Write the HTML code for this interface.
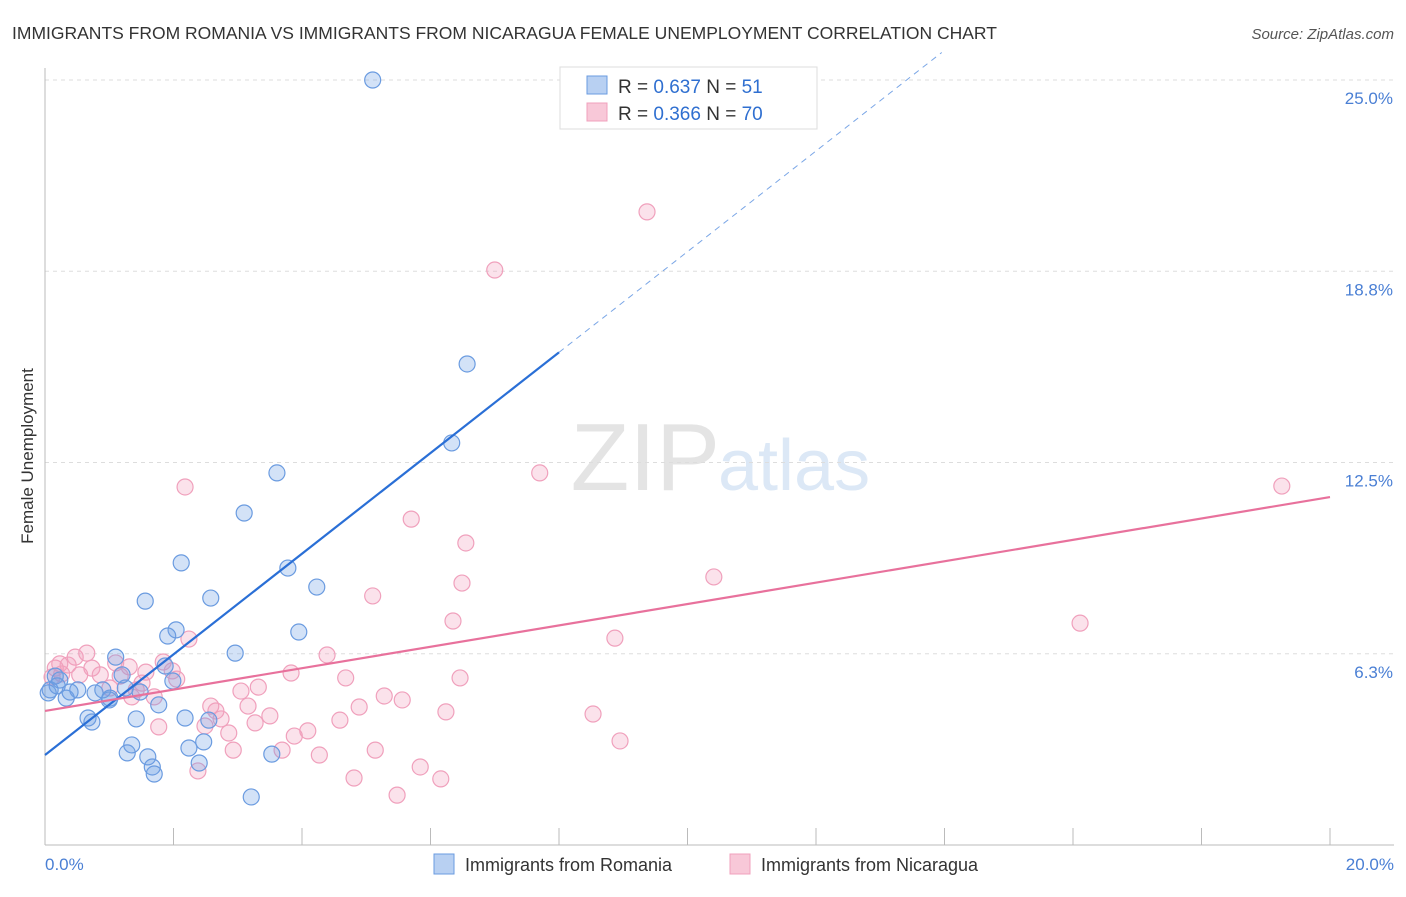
<!DOCTYPE html>
<html><head><meta charset="utf-8"><style>
body{margin:0;background:#fff;font-family:"Liberation Sans",sans-serif;}
svg text{font-family:"Liberation Sans",sans-serif;}
</style></head><body>
<svg id="chart" width="1406" height="892" xmlns="http://www.w3.org/2000/svg">
<text x="12" y="39" font-size="17.5" fill="#333">IMMIGRANTS FROM ROMANIA VS IMMIGRANTS FROM NICARAGUA FEMALE UNEMPLOYMENT CORRELATION CHART</text>
<text x="1394" y="39" font-size="15" fill="#555" text-anchor="end" font-style="italic">Source: ZipAtlas.com</text>
<text x="720" y="490" font-size="96" fill="#e4e4e4" text-anchor="end" font-family="Liberation Serif">ZIP</text>
<text x="718" y="490" font-size="72" fill="#dce8f6">atlas</text>
<text transform="translate(33,456) rotate(-90)" font-size="17" fill="#333" text-anchor="middle">Female Unemployment</text>
<g id="grid"></g><g id="axes"></g><g id="marks"></g>
<g>
<rect x="560" y="67" width="257" height="62" fill="#fff" stroke="#ddd"/>
<rect x="587" y="76" width="20" height="18" fill="#b8d0f2" stroke="#6a9be0"/>
<text x="618" y="93" font-size="19" fill="#333">R = <tspan fill="#2f6fd0">0.637</tspan>   N =  <tspan fill="#2f6fd0">51</tspan></text>
<rect x="587" y="103" width="20" height="18" fill="#f8c8d8" stroke="#f0a0bc"/>
<text x="618" y="120" font-size="19" fill="#333">R = <tspan fill="#2f6fd0">0.366</tspan>   N = <tspan fill="#2f6fd0">70</tspan></text>
</g>
<g>
<rect x="434" y="854" width="20" height="20" fill="#b8d0f2" stroke="#6a9be0"/>
<text x="465" y="871" font-size="18" fill="#333">Immigrants from Romania</text>
<rect x="730" y="854" width="20" height="20" fill="#f8c8d8" stroke="#f0a0bc"/>
<text x="761" y="871" font-size="18" fill="#333">Immigrants from Nicaragua</text>
</g>
</svg>
<script>
const yTicks=[6.25,12.5,18.75,25];
const yTickLabels=["6.3%","12.5%","18.8%","25.0%"];
const xTicks=[0,2,4,6,8,10,12,14,16,18,20];
const xTickLabels=["0.0%","20.0%"];
const romaniaX=[5.1,6.57,6.33,3.61,3.10,2.12,3.78,4.23,1.56,2.58,2.04,1.91,3.95,2.96,1.10,1.87,1.99,0.16,0.08,0.23,0.33,0.51,0.78,0.90,1.01,1.25,1.48,0.67,0.73,1.42,1.77,2.18,2.55,1.35,1.28,1.60,1.67,1.70,2.24,2.40,2.47,3.53,3.21,1.20,1.0,0.19,0.05,0.39];
const romaniaY=[25.0,15.72,13.14,12.16,10.85,9.22,9.05,8.43,7.97,8.07,7.03,6.83,6.96,6.27,6.14,5.85,5.36,5.52,5.07,5.39,4.80,5.07,4.97,5.07,4.80,5.13,5.0,4.15,4.02,4.12,4.58,4.15,4.08,3.27,3.01,2.88,2.55,2.32,3.17,2.68,3.37,2.97,1.57,5.56,4.74,5.2,4.97,5.0];
const nicaraguaX=[9.37,7.00,7.70,19.25,2.18,5.70,6.55,6.49,10.41,5.10,6.35,16.11,8.87,2.24,4.39,6.46,4.68,3.83,3.32,3.05,5.28,5.56,4.89,4.59,6.24,8.53,8.95,4.09,3.88,3.50,3.27,3.16,2.86,2.74,2.58,2.66,2.49,2.38,2.93,1.77,3.69,4.27,5.14,4.81,5.48,5.84,6.16,0.16,0.23,0.47,0.65,0.36,0.54,0.73,0.86,1.10,1.31,1.01,1.35,1.51,1.57,1.84,1.98,2.05,1.70,0.11,0.26,1.17,1.42];
const nicaraguaY=[20.69,18.79,12.16,11.73,11.70,10.65,9.87,8.56,8.76,8.14,7.32,7.25,6.76,6.73,6.21,5.46,5.46,5.62,5.16,5.03,4.87,4.74,4.51,4.08,4.35,4.28,3.40,3.73,3.56,4.22,3.99,4.54,3.66,4.12,4.54,4.38,3.89,2.42,3.10,3.86,3.10,2.94,3.10,2.19,1.63,2.55,2.16,5.78,5.92,6.14,6.27,5.88,5.56,5.78,5.56,5.95,5.82,5.13,4.84,5.29,5.65,5.98,5.69,5.42,4.84,5.49,5.59,5.52,5.07];
const romaniaTrend=[2.94,16.1];
const nicaraguaTrend=[4.38,11.37];
const NS="http://www.w3.org/2000/svg";
const X=v=>45+v*64.25, Y=v=>845-v*30.6;
function mk(tag,attrs,parent){const e=document.createElementNS(NS,tag);for(const k in attrs)e.setAttribute(k,attrs[k]);parent.appendChild(e);return e;}
const grid=document.getElementById('grid'),axes=document.getElementById('axes'),marks=document.getElementById('marks');
yTicks.forEach((t,i)=>{
 const l=mk('line',{x1:45,x2:1394,y1:Y(t),y2:Y(t),stroke:'#ddd','stroke-dasharray':'4,4'},grid);
 
 
 const tx=mk('text',{x:1393,y:Y(t)+24,'font-size':'17',fill:'#4a7fd4','text-anchor':'end'},axes);
 tx.textContent=yTickLabels[i];
 
 
});
const ax=mk('line',{x1:45,x2:1394,y1:845,y2:845,stroke:'#bbb'},axes);


const ay=mk('line',{x1:45,x2:45,y1:68,y2:845,stroke:'#bbb'},axes);


xTicks.forEach(t=>{const l=mk('line',{x1:X(t),x2:X(t),y1:828,y2:845,stroke:'#bbb'},axes);
 
 });
[[0,'start',45],[20,'end',1394]].forEach((d,i)=>{const tx=mk('text',{x:d[2],y:870,'font-size':'17',fill:'#4a7fd4','text-anchor':d[1]},axes);tx.textContent=xTickLabels[i];
 
 });
function pts(xs,ys,fill,stroke,name){xs.forEach((x,i)=>{const c=mk('circle',{cx:X(x),cy:Y(ys[i]),r:8,fill:fill,stroke:stroke,'stroke-width':1.2},marks);
 
 });}
pts(nicaraguaX,nicaraguaY,'rgba(242,160,190,0.3)','#f0a0bc','nicaragua-point');
pts(romaniaX,romaniaY,'rgba(110,160,230,0.3)','#6a9be0','romania-point');
const slope=(romaniaTrend[1]-romaniaTrend[0])/8;
const bl=mk('line',{x1:X(0),y1:Y(romaniaTrend[0]),x2:X(8),y2:Y(romaniaTrend[1]),stroke:'#2a6fd6','stroke-width':2.2},marks);


const xe=(25.9-romaniaTrend[0])/slope;
const bd=mk('line',{x1:X(8),y1:Y(romaniaTrend[1]),x2:X(xe),y2:Y(25.9),stroke:'#7aa6e6','stroke-width':1,'stroke-dasharray':'6,5'},marks);


const pl=mk('line',{x1:X(0),y1:Y(nicaraguaTrend[0]),x2:X(20),y2:Y(nicaraguaTrend[1]),stroke:'#e8719c','stroke-width':2.2},marks);


</script>
</body></html>
